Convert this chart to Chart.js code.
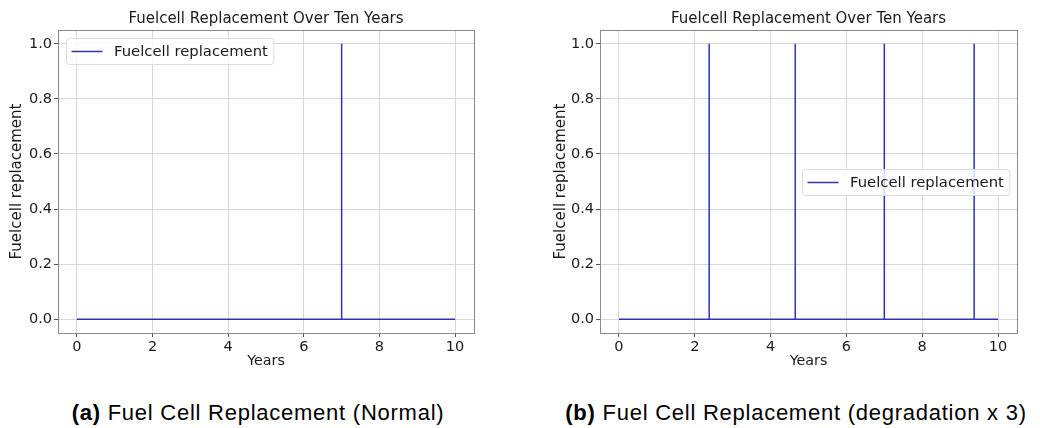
<!DOCTYPE html>
<html>
<head>
<meta charset="utf-8">
<title>Fuelcell Replacement</title>
<script src="https://cdn.jsdelivr.net/npm/chart.js@4.4.0/dist/chart.umd.min.js"></script>
<style>
	body { margin: 0; background: #fff; width: 1040px; height: 428px; position: relative; overflow: hidden; }
	.panel { position: absolute; top: 0; }
	.caption { position: absolute; top: 400px; width: 520px; text-align: center; white-space: nowrap;
		font-family: "Liberation Sans", Arial, sans-serif; font-size: 22px; letter-spacing: 0.75px; color: #000; }
</style>
</head>
<body>
<canvas id="chart-normal" class="panel" width="520" height="380" style="left:0"></canvas>
<canvas id="chart-degraded" class="panel" width="520" height="380" style="left:520px"></canvas>
<div class="caption" style="left:-2px"><b>(a)</b> Fuel Cell Replacement (Normal)</div>
<div class="caption" style="left:536px"><b>(b)</b> Fuel Cell Replacement (degradation x 3)</div>
<script>
// normal operation: one stack swap in year 7
var yearsNormal = [0, 7.0, 7.0, 7.0, 10];
var replaceNormal = [0, 0, 1, 0, 0];

// degradation x 3: four swaps
var yearsDegraded = [0, 2.38, 2.38, 2.38, 4.65, 4.65, 4.65, 7.0, 7.0, 7.0, 9.37, 9.37, 9.37, 10];
var replaceDegraded = [0, 0, 1, 0, 0, 1, 0, 0, 1, 0, 0, 1, 0, 0];

var xTickValues = [0, 2, 4, 6, 8, 10];
var yTickValues = [0, 0.2, 0.4, 0.6, 0.8, 1.0];

var FONT = '"DejaVu Sans", sans-serif';
var LINE_COLOR = '#3232b4';
var SERIES_LABEL = 'Fuelcell replacement';

// frame on all four sides of the plot area
var axesFrame = {
	id: 'axesFrame',
	afterDatasetsDraw: function (chart) {
		var a = chart.chartArea, ctx = chart.ctx;
		ctx.save();
		ctx.strokeStyle = '#8a8a8a';
		ctx.lineWidth = 1;
		ctx.strokeRect(Math.round(a.left) + 0.5, Math.round(a.top) + 0.5,
			Math.round(a.right - a.left), Math.round(a.bottom - a.top));
		ctx.restore();
	}
};

// legend drawn inside the plot area
var insideLegend = {
	id: 'insideLegend',
	afterDraw: function (chart, args, opts) {
		var a = chart.chartArea, ctx = chart.ctx,
			ds = chart.data.datasets[0];
		ctx.save();
		ctx.font = opts.fontSize + 'px ' + FONT;
		var textW = ctx.measureText(ds.label).width;
		var w = 5 + 31 + 11.5 + textW + 6, h = 26, r = 3;
		var x, y;
		if (opts.loc === 'upper left') {
			x = a.left + 7.5; y = a.top + 8;
		} else {
			x = a.right - 7.5 - w; y = (a.top + a.bottom) / 2 - h / 2;
		}
		x = Math.round(x) + 0.5; y = Math.round(y) + 0.5;
		ctx.beginPath();
		ctx.moveTo(x + r, y);
		ctx.lineTo(x + w - r, y);
		ctx.arcTo(x + w, y, x + w, y + r, r);
		ctx.lineTo(x + w, y + h - r);
		ctx.arcTo(x + w, y + h, x + w - r, y + h, r);
		ctx.lineTo(x + r, y + h);
		ctx.arcTo(x, y + h, x, y + h - r, r);
		ctx.lineTo(x, y + r);
		ctx.arcTo(x, y, x + r, y, r);
		ctx.closePath();
		ctx.fillStyle = 'rgba(255,255,255,0.8)';
		ctx.fill();
		ctx.strokeStyle = '#dcdcdc';
		ctx.lineWidth = 1;
		ctx.stroke();

		var cy = y + h / 2;
		ctx.beginPath();
		ctx.moveTo(x + 5, cy);
		ctx.lineTo(x + 36, cy);
		ctx.strokeStyle = ds.borderColor;
		ctx.lineWidth = ds.borderWidth;
		ctx.stroke();

		ctx.fillStyle = '#1a1a1a';
		ctx.textBaseline = 'middle';
		ctx.fillText(ds.label, x + 47.5, cy + 0.5);
		ctx.restore();
	}
};

function toPoints(xs, ys) {
	return xs.map(function (x, i) { return { x: x, y: ys[i] }; });
}

function makeChart(id, xs, ys, geo) {
	return new Chart(document.getElementById(id), {
		type: 'scatter',
		data: {
			datasets: [{
				label: SERIES_LABEL,
				data: toPoints(xs, ys),
				showLine: true,
				borderColor: LINE_COLOR,
				borderWidth: 1.5,
				pointRadius: 0,
				tension: 0
			}]
		},
		options: {
			responsive: false,
			animation: false,
			devicePixelRatio: 1,
			layout: { padding: { left: geo.padLeft, right: geo.padRight, top: 0, bottom: 0 } },
			plugins: {
				legend: { display: false },
				tooltip: { enabled: false },
				title: {
					display: true,
					fullSize: false,
					text: 'Fuelcell Replacement Over Ten Years',
					color: '#1a1a1a',
					font: { family: FONT, size: 15, weight: 'normal' },
					padding: { top: 10, bottom: 2 }
				},
				insideLegend: { loc: geo.legendLoc, fontSize: 14.8 }
			},
			scales: {
				x: {
					type: 'linear',
					min: -0.5,
					max: 10.5,
					afterBuildTicks: function (scale) {
						scale.ticks = xTickValues.map(function (v) { return { value: v }; });
					},
					afterFit: function (scale) { scale.height = 47; },
					ticks: {
						color: '#1a1a1a',
						font: { family: FONT, size: 14.5 },
						padding: 2,
						maxRotation: 0,
						callback: function (v) { return String(v); }
					},
					grid: { color: '#d6d6d6', tickColor: '#555', tickLength: 4, lineWidth: 1 },
					border: { display: false },
					title: {
						display: true,
						text: 'Years',
						color: '#1a1a1a',
						font: { family: FONT, size: 14.3 },
						padding: { top: 0, bottom: 10 }
					}
				},
				y: {
					type: 'linear',
					min: -0.05,
					max: 1.05,
					afterBuildTicks: function (scale) {
						scale.ticks = yTickValues.map(function (v) { return { value: v }; });
					},
					afterFit: function (scale) { scale.width = geo.yWidth; },
					ticks: {
						color: '#1a1a1a',
						font: { family: FONT, size: 14.5 },
						padding: 2,
						callback: function (v) { return Number(v).toFixed(1); }
					},
					grid: { color: '#d6d6d6', tickColor: '#555', tickLength: 4, lineWidth: 1 },
					border: { display: false },
					title: {
						display: true,
						text: 'Fuelcell replacement',
						color: '#1a1a1a',
						font: { family: FONT, size: 15 },
						padding: { top: 0, bottom: 0 }
					}
				}
			}
		},
		plugins: [axesFrame, insideLegend]
	});
}

makeChart('chart-normal', yearsNormal, replaceNormal,
	{ padLeft: 8, padRight: 46, yWidth: 50, legendLoc: 'upper left' });
makeChart('chart-degraded', yearsDegraded, replaceDegraded,
	{ padLeft: 32, padRight: 23, yWidth: 48, legendLoc: 'center right' });
</script>
</body>
</html>
